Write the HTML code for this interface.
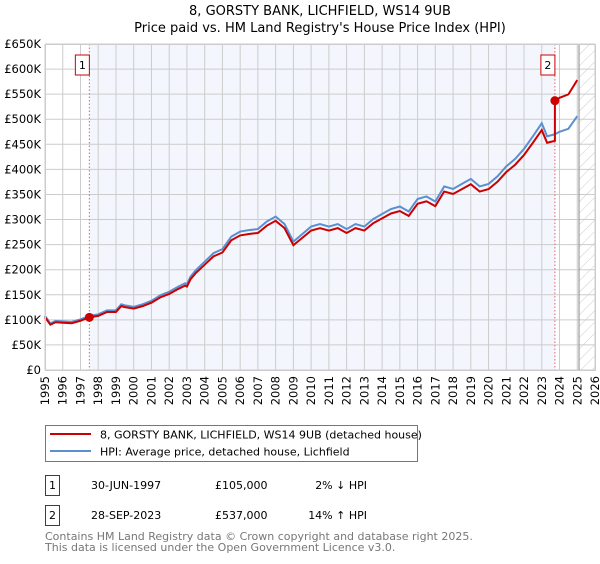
<!DOCTYPE html>
<html><head><meta charset="utf-8"><style>
body{margin:0;background:#fff;font-family:"DejaVu Sans","Liberation Sans",sans-serif;}
svg text{font-family:"DejaVu Sans","Liberation Sans",sans-serif;}
</style></head><body>
<svg id="chart" width="600" height="560" viewBox="0 0 600 560" xmlns="http://www.w3.org/2000/svg">
<defs><pattern id="hatch" width="8" height="8" patternUnits="userSpaceOnUse" patternTransform="rotate(45)"><line x1="0" y1="0" x2="0" y2="8" stroke="#ccc" stroke-width="1"/></pattern></defs>
<text x="320" y="15" text-anchor="middle" font-size="13">8, GORSTY BANK, LICHFIELD, WS14 9UB</text>
<text x="320" y="32" text-anchor="middle" font-size="13">Price paid vs. HM Land Registry's House Price Index (HPI)</text>
<g id="plot"></g>
<rect x="45.5" y="425.5" width="372" height="36" fill="#fff" stroke="#777"/>
<line x1="50" y1="434" x2="91" y2="434" stroke="#cc0000" stroke-width="2"/>
<text x="100" y="438.5" font-size="11">8, GORSTY BANK, LICHFIELD, WS14 9UB (detached house)</text>
<line x1="50" y1="451" x2="91" y2="451" stroke="#5b8fd1" stroke-width="2"/>
<text x="100" y="455.5" font-size="11">HPI: Average price, detached house, Lichfield</text>
<g font-size="11">
<rect x="45.5" y="475.5" width="14" height="20" fill="#fff" stroke="#cc0000"/><text x="52.5" y="489" text-anchor="middle">1</text>
<text x="91" y="489">30-JUN-1997</text><text x="215" y="489">£105,000</text><text x="367" y="489" text-anchor="end">2% ↓ HPI</text></g>
<g font-size="11">
<rect x="45.5" y="505.5" width="14" height="20" fill="#fff" stroke="#cc0000"/><text x="52.5" y="519" text-anchor="middle">2</text>
<text x="91" y="519">28-SEP-2023</text><text x="215" y="519">£537,000</text><text x="367" y="519" text-anchor="end">14% ↑ HPI</text></g>
<text x="45" y="540" font-size="11" fill="#777">Contains HM Land Registry data © Crown copyright and database right 2025.</text>
<text x="45" y="551" font-size="11" fill="#777">This data is licensed under the Open Government Licence v3.0.</text>
</svg>
<script>
const yearTicks=[1995,1996,1997,1998,1999,2000,2001,2002,2003,2004,2005,2006,2007,2008,2009,2010,2011,2012,2013,2014,2015,2016,2017,2018,2019,2020,2021,2022,2023,2024,2025,2026];
const priceTicks=[0,50,100,150,200,250,300,350,400,450,500,550,600,650];
const hpiYears=[1995.0,1995.3,1995.6,1996,1996.5,1997,1997.5,1998,1998.5,1999,1999.3,1999.5,2000,2000.5,2001,2001.5,2002,2002.5,2002.9,2003,2003.2,2003.5,2004,2004.5,2005,2005.5,2006,2006.5,2007,2007.5,2008,2008.5,2009,2009.5,2010,2010.5,2011,2011.5,2012,2012.5,2013,2013.5,2014,2014.5,2015,2015.5,2016,2016.5,2017,2017.5,2018,2018.5,2019,2019.5,2020,2020.5,2021,2021.5,2022,2022.5,2023,2023.3,2023.74,2024,2024.5,2025];
const hpiValues=[108,93,98,97,96,101,108,111,119,119,131,129,126,131,138,149,156,166,173,171,186,199,216,233,241,266,276,279,281,296,306,291,256,271,286,291,286,291,281,291,286,301,311,321,326,316,341,346,336,366,361,371,381,366,371,386,406,421,441,466,492,466,470,475,481,506];
const saleYears=[1997.5,2023.74];
const salePrices=[105,537];
const saleLabels=["1","2"];
const X0=45,X1=595,Y0=370,Y1=44;
const x=y=>X0+(y-1995)/(2026-1995)*(X1-X0);
const y=v=>Y0-v/650*(Y0-Y1);
const NS="http://www.w3.org/2000/svg";
const g=document.getElementById('plot');
function mk(t,a,p){const e=document.createElementNS(NS,t);for(const k in a)e.setAttribute(k,a[k]);(p||g).appendChild(e);return e;}
let r=mk('rect',{x:x(saleYears[0]),y:Y1,width:x(saleYears[1])-x(saleYears[0]),height:Y0-Y1,fill:'#f3f6fd'});


let h=mk('rect',{x:x(2025.1),y:Y1,width:X1-x(2025.1),height:Y0-Y1,fill:'url(#hatch)'});


priceTicks.forEach(v=>{
 let l=mk('line',{x1:X0,x2:X1,y1:y(v),y2:y(v),stroke:'#ccc'});
 
 
 let t=mk('text',{x:X0-4,y:y(v)+4,'text-anchor':'end','font-size':'11.5'});
 
 
 t.textContent=v===0?'£0':'£'+v+'K';
});
yearTicks.forEach(yr=>{
 let l=mk('line',{x1:x(yr),x2:x(yr),y1:Y1,y2:Y0,stroke:'#ccc'});
 
 
 let t=mk('text',{x:0,y:0,'text-anchor':'end','font-size':'11.5',transform:`translate(${x(yr)+4},${Y0+6}) rotate(-90)`});
 
 
 t.textContent=yr;
});
let vl=mk('line',{x1:x(2025.1),x2:x(2025.1),y1:Y1,y2:Y0,stroke:'#888'});


saleYears.forEach((s,i)=>{
 let l=mk('line',{x1:x(s),x2:x(s),y1:Y1,y2:Y0,stroke:'#e06666','stroke-dasharray':'1.5,2'});
 
 
 let b=mk('rect',{x:x(s)-14,y:55,width:14,height:20,fill:'#fff',stroke:'#cc0000'});
 
 
 let t=mk('text',{x:x(s)-7,y:69,'text-anchor':'middle','font-size':'11'});
 
 
 t.textContent=saleLabels[i];
});
function hpiAt(t){for(let i=1;i<hpiYears.length;i++){if(t<=hpiYears[i]){const f=(t-hpiYears[i-1])/(hpiYears[i]-hpiYears[i-1]);return hpiValues[i-1]+f*(hpiValues[i]-hpiValues[i-1]);}}return hpiValues[hpiValues.length-1];}
let hp=mk('polyline',{points:hpiYears.map((t,i)=>x(t)+','+y(hpiValues[i])).join(' '),fill:'none',stroke:'#5b8fd1','stroke-width':2});


const f1=salePrices[0]/hpiAt(saleYears[0]),f2=salePrices[1]/hpiAt(saleYears[1]);
let pts=[];
hpiYears.forEach((t,i)=>{if(t<saleYears[1])pts.push(x(t)+','+y(hpiValues[i]*f1));});
pts.push(x(saleYears[1])+','+y(hpiAt(saleYears[1])*f1));
pts.push(x(saleYears[1])+','+y(salePrices[1]));
hpiYears.forEach((t,i)=>{if(t>saleYears[1])pts.push(x(t)+','+y(hpiValues[i]*f2));});
let pl=mk('polyline',{points:pts.join(' '),fill:'none',stroke:'#cc0000','stroke-width':2});


saleYears.forEach((s,i)=>{
 let c=mk('circle',{cx:x(s),cy:y(salePrices[i]),r:4.5,fill:'#cc0000'});
 
 
});
let ax=mk('rect',{x:X0+.5,y:Y1+.5,width:X1-X0,height:Y0-Y1,fill:'none',stroke:'#ccc'});


</script>
</body></html>
